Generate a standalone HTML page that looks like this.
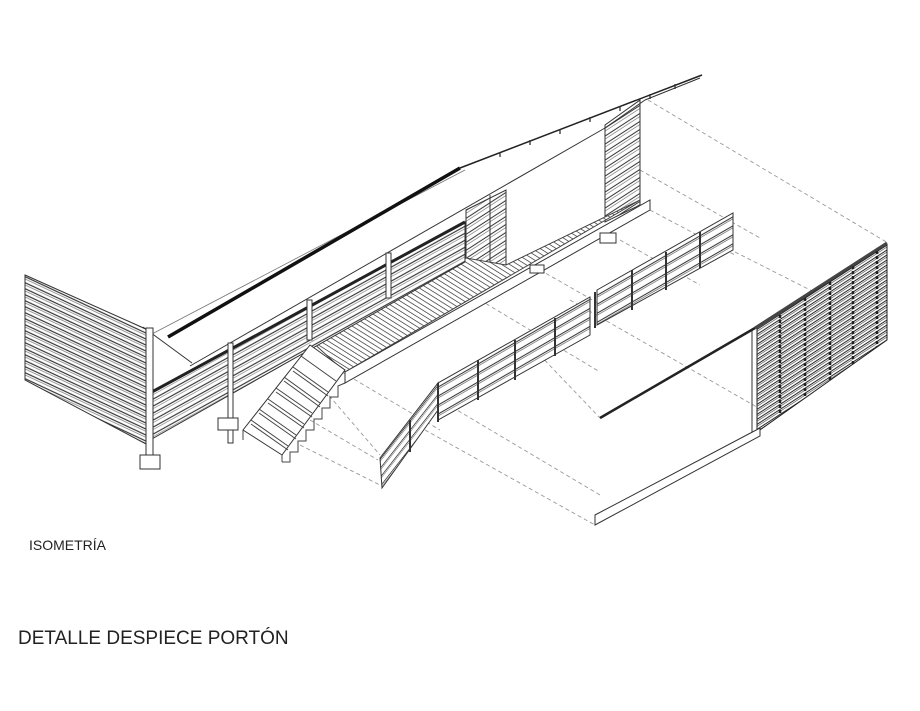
<!DOCTYPE html>
<html><head><meta charset="utf-8"><style>
html,body{margin:0;padding:0;background:#fff;width:920px;height:711px;overflow:hidden}
svg{display:block}
text{font-family:"Liberation Sans",sans-serif;fill:#222}
</style></head><body>
<svg width="920" height="711" viewBox="0 0 920 711" xmlns="http://www.w3.org/2000/svg">
<defs>
<pattern id="pd" width="10" height="6" patternUnits="userSpaceOnUse" patternTransform="skewY(25)"><rect width="10" height="6" fill="#fff"/><line x1="0" y1="1" x2="10" y2="1" stroke="#333" stroke-width="1.3"/><line x1="0" y1="3.3" x2="10" y2="3.3" stroke="#777" stroke-width="0.8"/></pattern>
<pattern id="pu" width="10" height="7" patternUnits="userSpaceOnUse" patternTransform="skewY(-29)"><rect width="10" height="7" fill="#fff"/><line x1="0" y1="1" x2="10" y2="1" stroke="#333" stroke-width="1.3"/><line x1="0" y1="3.5" x2="10" y2="3.5" stroke="#888" stroke-width="0.8"/></pattern>
<pattern id="pr" width="10" height="9" patternUnits="userSpaceOnUse" patternTransform="skewY(-30)"><rect width="10" height="9" fill="#fff"/><line x1="0" y1="1" x2="10" y2="1" stroke="#333" stroke-width="1.2"/><line x1="0" y1="3" x2="10" y2="3" stroke="#666" stroke-width="0.8"/></pattern>
<pattern id="pw" width="10" height="8" patternUnits="userSpaceOnUse" patternTransform="skewY(-33)"><rect width="10" height="8" fill="#fff"/><line x1="0" y1="1" x2="10" y2="1" stroke="#333" stroke-width="1.2"/><line x1="0" y1="4" x2="10" y2="4" stroke="#777" stroke-width="0.8"/></pattern>
<pattern id="pm" width="10" height="9" patternUnits="userSpaceOnUse" patternTransform="skewY(-52)"><rect width="10" height="9" fill="#fff"/><line x1="0" y1="1" x2="10" y2="1" stroke="#333" stroke-width="1.2"/><line x1="0" y1="3" x2="10" y2="3" stroke="#666" stroke-width="0.8"/></pattern>
<pattern id="pf" width="10" height="5" patternUnits="userSpaceOnUse" patternTransform="skewY(32)"><rect width="10" height="5" fill="#fff"/><line x1="0" y1="1" x2="10" y2="1" stroke="#555" stroke-width="1"/></pattern>
<pattern id="pg" width="10" height="5" patternUnits="userSpaceOnUse" patternTransform="skewY(-33)"><rect width="10" height="5" fill="#fff"/><line x1="0" y1="1" x2="10" y2="1" stroke="#222" stroke-width="1.2"/><line x1="0" y1="3" x2="10" y2="3" stroke="#555" stroke-width="0.8"/></pattern>
</defs>
<g stroke="#999" stroke-width="0.9" stroke-dasharray="4,3" fill="none">
<line x1="648" y1="100" x2="888" y2="243"/>
<line x1="640" y1="170" x2="760" y2="238"/>
<line x1="650" y1="210" x2="735" y2="255"/>
<line x1="735" y1="252" x2="830" y2="300"/>
<line x1="620" y1="240" x2="700" y2="285"/>
<line x1="540" y1="270" x2="610" y2="310"/>
<line x1="570" y1="300" x2="762" y2="410"/>
<line x1="480" y1="300" x2="600" y2="372"/>
<line x1="535" y1="350" x2="600" y2="418"/>
<line x1="440" y1="400" x2="600" y2="495"/>
<line x1="330" y1="365" x2="440" y2="430"/>
<line x1="320" y1="385" x2="380" y2="455"/>
<line x1="310" y1="420" x2="378" y2="460"/>
<line x1="300" y1="445" x2="380" y2="485"/>
<line x1="425" y1="430" x2="595" y2="525"/>
</g>
<polygon points="25,275 148,330 148,445 25,380" fill="url(#pd)" stroke="#333" stroke-width="1"/>
<polygon points="466,210 506,190 506,265 466,285" fill="url(#pw)" stroke="#333"/>
<polygon points="605,125 640,100 640,205 605,222" fill="url(#pw)" stroke="#333"/>
<line x1="490" y1="195" x2="490" y2="275" stroke="#333"/>
<polygon points="310,340 466,258 506,265 640,200 345,372" fill="url(#pf)" stroke="#444"/>
<polygon points="345,372 650,200 650,210 345,383" fill="#fff" stroke="#333"/>
<polygon points="150,393 465,222 465,262 150,440" fill="url(#pu)" stroke="#333"/>
<line x1="150" y1="393" x2="465" y2="222" stroke="#222" stroke-width="3"/>
<line x1="190" y1="366" x2="605" y2="128" stroke="#333"/>
<line x1="143" y1="327" x2="192" y2="363" stroke="#333"/>
<line x1="150" y1="335" x2="465" y2="170" stroke="#777" stroke-width="0.8"/>
<g fill="#fff" stroke="#333">
<rect x="146" y="328" width="7" height="140"/>
<rect x="228" y="343" width="5" height="100"/>
<rect x="307" y="300" width="5" height="40"/>
<rect x="386" y="253" width="5" height="45"/>
<rect x="140" y="455" width="20" height="14"/>
<rect x="218" y="418" width="20" height="12"/>
<rect x="600" y="233" width="16" height="10"/>
<rect x="530" y="265" width="14" height="8"/>
</g>
<line x1="168" y1="337" x2="460" y2="168" stroke="#111" stroke-width="3.5"/>
<line x1="460" y1="168" x2="702" y2="75" stroke="#222" stroke-width="1.5"/>
<line x1="605" y1="128" x2="645" y2="100" stroke="#333"/>
<line x1="645" y1="100" x2="700" y2="78" stroke="#333"/>
<g stroke="#333" stroke-width="1.3"><line x1="500" y1="152" x2="500" y2="157"/><line x1="530" y1="140" x2="530" y2="145"/><line x1="560" y1="129" x2="560" y2="134"/><line x1="590" y1="117" x2="590" y2="122"/><line x1="620" y1="106" x2="620" y2="111"/><line x1="650" y1="94" x2="650" y2="99"/><line x1="675" y1="84" x2="675" y2="89"/></g>
<!-- stairs -->
<polygon points="243,430 310,345 345,370 282,455" fill="#fff" stroke="#333"/>
<g stroke="#444" stroke-width="1" fill="none">
<line x1="251" y1="420" x2="288" y2="446"/><line x1="259" y1="409" x2="296" y2="435"/><line x1="268" y1="399" x2="304" y2="424"/><line x1="276" y1="388" x2="312" y2="413"/><line x1="284" y1="377" x2="320" y2="403"/><line x1="293" y1="367" x2="328" y2="392"/><line x1="301" y1="356" x2="336" y2="381"/>
<line x1="251" y1="424" x2="288" y2="450"/><line x1="259" y1="413" x2="296" y2="439"/><line x1="268" y1="403" x2="304" y2="428"/><line x1="276" y1="392" x2="312" y2="417"/><line x1="284" y1="381" x2="320" y2="407"/><line x1="293" y1="371" x2="328" y2="396"/>
<line x1="282" y1="455" x2="282" y2="462"/><line x1="243" y1="430" x2="243" y2="440"/>
<polyline points="282,462 290,462 290,452 298,452 298,441 306,441 306,430 314,430 314,419 322,419 322,408 330,408 330,397 338,397 338,386 345,383"/>
</g>
<polygon points="380,458 438,383 438,410 382,488" fill="url(#pm)" stroke="#333"/>
<polygon points="438,383 590,297 590,335 438,420" fill="url(#pr)" stroke="#333"/>
<polygon points="597,290 733,213 733,250 597,325" fill="url(#pr)" stroke="#333"/>
<g stroke="#333" stroke-width="2"><line x1="410" y1="420" x2="410" y2="452"/><line x1="478" y1="360" x2="478" y2="400"/><line x1="515" y1="340" x2="515" y2="380"/><line x1="555" y1="318" x2="555" y2="356"/><line x1="632" y1="270" x2="632" y2="310"/><line x1="666" y1="252" x2="666" y2="290"/><line x1="700" y1="232" x2="700" y2="268"/><line x1="595" y1="292" x2="595" y2="328"/><line x1="438" y1="383" x2="438" y2="422"/></g>
<polygon points="757,328 887,245 887,340 757,432" fill="url(#pg)" stroke="#222"/>
<line x1="755" y1="328" x2="887" y2="243" stroke="#444" stroke-width="3"/>
<line x1="752" y1="330" x2="752" y2="432" stroke="#333"/>
<g stroke="#222" stroke-width="2.5" stroke-dasharray="3,2"><line x1="780" y1="315" x2="780" y2="415"/><line x1="805" y1="298" x2="805" y2="398"/><line x1="830" y1="282" x2="830" y2="380"/><line x1="853" y1="266" x2="853" y2="364"/><line x1="877" y1="251" x2="877" y2="347"/></g>
<line x1="600" y1="418" x2="755" y2="328" stroke="#222" stroke-width="2.5"/>
<polygon points="595,515 760,428 760,436 595,525" fill="#fff" stroke="#333"/>
<text x="29" y="550" font-size="14">ISOMETRÍA</text>
<text x="18" y="644" font-size="19">DETALLE DESPIECE PORTÓN</text>
</svg>
</body></html>
